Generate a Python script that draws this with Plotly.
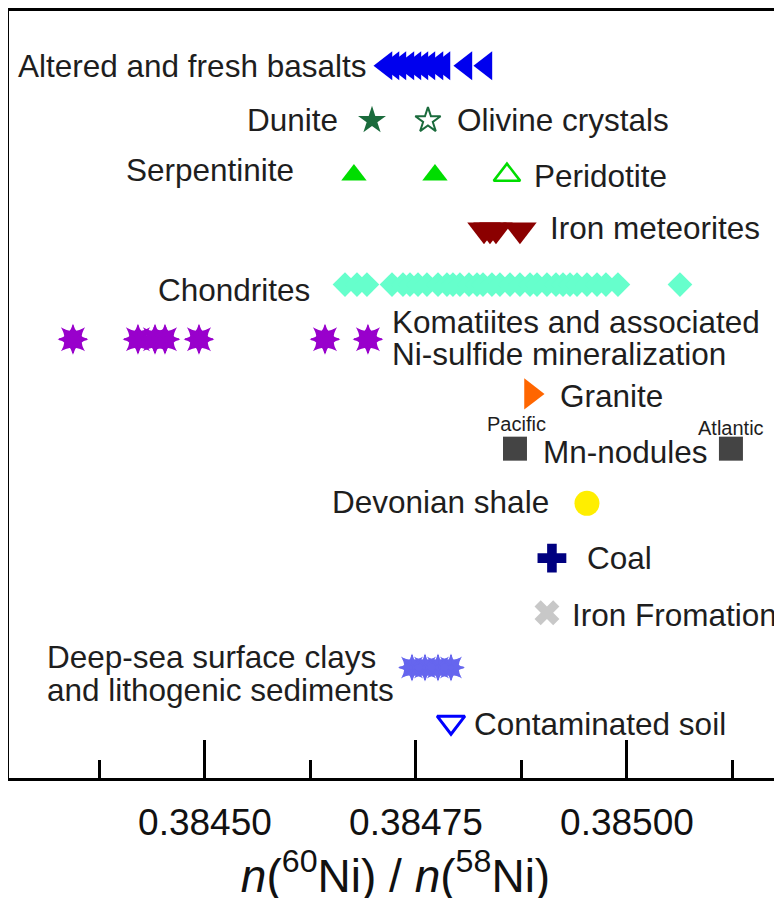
import plotly.graph_objects as go

# ---- data (x values are n(60Ni)/n(58Ni); rows are category positions, top = 0) ----
basalts = [0.3847145, 0.3847228, 0.3847310, 0.3847405, 0.3847488, 0.3847571,
           0.3847654, 0.3847749, 0.3847832, 0.3848092, 0.3848329]
dunite = [0.3846979]
olivine = [0.3847642]
serpentinite = [0.3846765, 0.3847725]
peridotite = [0.3848578]
iron_meteorites = [0.3848306, 0.3848377, 0.3848448, 0.3848732]
chondrites = [0.3846659, 0.3846801, 0.3846919, 0.3847216, 0.3847346, 0.3847429,
              0.3847524, 0.3847630, 0.3847761, 0.3847867, 0.3847938, 0.3848021,
              0.3848128, 0.3848223, 0.3848294, 0.3848400, 0.3848495, 0.3848614,
              0.3848732, 0.3848851, 0.3848934, 0.3849052, 0.3849159, 0.3849242,
              0.3849325, 0.3849408, 0.3849526, 0.3849645, 0.3849751, 0.3849893,
              0.3850628]
komatiites = [0.3843436, 0.3844206, 0.3844408, 0.3844526, 0.3844929, 0.3846422, 0.3846931]
granite = [0.3848863]
mn_nodules = [0.3848673, 0.3851232]
devonian_shale = [0.3849526]
coal = [0.3849111]
iron_formation = [0.3849052]
deep_sea = [0.3847453, 0.3847607, 0.3847761, 0.3847915]
contaminated_soil = [0.3847915]

rows = {"basalts": 0, "dunite": 1, "serp": 2, "iron_met": 3, "chond": 4, "komat": 5,
        "granite": 6, "mn": 7, "devon": 8, "coal": 9, "ironf": 10, "deep": 11, "soil": 12}

tick_vals = [0.38450, 0.38475, 0.38500]
tick_text = ["0.38450", "0.38475", "0.38500"]

FONT = "Liberation Sans, Arial, sans-serif"
TXT = "#1e1e1e"
FS = 31.5

fig = go.Figure()


def add(xs, row, symbol, color, size, line_w=0, line_color=None):
    fig.add_trace(go.Scatter(
        x=xs, y=[row] * len(xs), mode="markers", hoverinfo="skip",
        marker=dict(symbol=symbol, size=size, color=color,
                    line=dict(width=line_w, color=line_color or color))))


def add_burst(xs, row, color, size):
    add(xs, row, "star-square", color, size)
    add(xs, row, "star-diamond", color, size)
    add(xs, row, "asterisk-open", color, size * 1.05, line_w=1.8)


add(basalts, rows["basalts"], "triangle-left", "#0000ee", 25)
add(dunite, rows["dunite"], "star", "#1a6b3c", 21)
add(olivine, rows["dunite"], "star-open", "#1a6b3c", 19, line_w=2)
add(serpentinite, rows["serp"], "triangle-up", "#00dd00", 22)
add(peridotite, rows["serp"], "triangle-up-open", "#00dd00", 23, line_w=2.5)
add(iron_meteorites, rows["iron_met"], "triangle-down", "#8b0000", 29)
add(chondrites, rows["chond"], "diamond", "#66ffcc", 19)
add_burst(komatiites, rows["komat"], "#9900cc", 22)
add(granite, rows["granite"], "triangle-right", "#ff6600", 27)
add(mn_nodules, rows["mn"], "square", "#444444", 24)
add(devonian_shale, rows["devon"], "circle", "#ffee00", 25)
add(coal, rows["coal"], "cross", "#000080", 24)
add(iron_formation, rows["ironf"], "x", "#c8c8c8", 22)
add_burst(deep_sea, rows["deep"], "#6666ee", 20)
add(contaminated_soil, rows["soil"], "triangle-down-open", "#0000ff", 24, line_w=3)

# ---- labels: (text, x, row position, anchor, font size) ----
labels = [
    ("Altered and fresh basalts", 0.3846931, 0.0, "right", FS),
    ("Dunite", 0.3846600, 0.99, "right", FS),
    ("Olivine crystals", 0.3847962, 0.99, "left", FS),
    ("Serpentinite", 0.3846078, 1.90, "right", FS),
    ("Peridotite", 0.3848874, 2.01, "left", FS),
    ("Iron meteorites", 0.3849064, 2.96, "left", FS),
    ("Chondrites", 0.3846268, 4.10, "right", FS),
    ("Komatiites and associated", 0.3847192, 4.68, "left", FS),
    ("Ni-sulfide mineralization", 0.3847192, 5.27, "left", FS),
    ("Granite", 0.3849183, 6.04, "left", FS),
    ("Mn-nodules", 0.3848981, 7.06, "left", FS),
    ("Devonian shale", 0.3849100, 7.98, "right", FS),
    ("Coal", 0.3849502, 9.0, "left", FS),
    ("Iron Fromation", 0.3849325, 10.04, "left", FS),
    ("Deep-sea surface clays", 0.3843104, 10.81, "left", FS),
    ("and lithogenic sediments", 0.3843104, 11.41, "left", FS),
    ("Contaminated soil", 0.3848164, 12.04, "left", FS),
    ("Pacific", 0.3848697, 6.55, "center", 20),
    ("Atlantic", 0.3851232, 6.62, "center", 20),
]
for text, x, y, anchor, fs in labels:
    fig.add_annotation(x=x, y=y, text=text, showarrow=False, xanchor=anchor,
                       yanchor="middle", align="left",
                       font=dict(family=FONT, size=fs, color=TXT))

fig.update_layout(
    width=782, height=898,
    margin=dict(l=1, r=8, t=3, b=128),
    paper_bgcolor="white", plot_bgcolor="white",
    showlegend=False,
    xaxis=dict(
        range=[0.3842678, 0.3851837],
        showgrid=False, zeroline=False,
        showline=True, linecolor="black", linewidth=3, mirror=True,
        tickmode="array", tickvals=tick_vals, ticktext=tick_text,
        ticks="inside", ticklen=38, tickwidth=3, tickcolor="black",
        minor=dict(tickmode="linear", tick0=0.384375, dtick=0.00025,
                   ticks="inside", ticklen=18, tickwidth=3, tickcolor="black"),
        tickfont=dict(family=FONT, size=37, color="#111111"),
        ticklabelstandoff=10,
        title=dict(text="<i>n</i>(<sup>60</sup>Ni) / <i>n</i>(<sup>58</sup>Ni)",
                   font=dict(family=FONT, size=46, color="#111111"), standoff=1),
    ),
    yaxis=dict(
        range=[13.02, -1.0],
        showgrid=False, zeroline=False, showticklabels=False, ticks="",
        showline=True, linecolor="black", linewidth=3, mirror=False,
    ),
)

fig.write_html("out.html")
